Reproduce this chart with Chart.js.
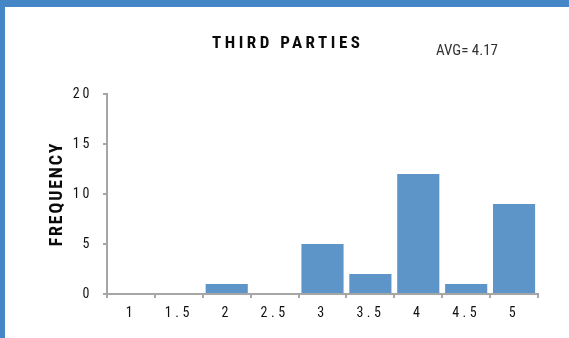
<!DOCTYPE html>
<html>
<head>
<meta charset="utf-8">
<script src="https://cdn.jsdelivr.net/npm/chart.js@4.4.1/dist/chart.umd.min.js"></script>
<style>
  html, body { margin: 0; padding: 0; background: #fff; }
  #wrap { position: relative; width: 569px; height: 338px; }
</style>
</head>
<body>
<div id="wrap"><canvas id="c" width="569" height="338"></canvas></div>
<script>
// Rating buckets and how many responses fell in each
const categories = ['1', '1.5', '2', '2.5', '3', '3.5', '4', '4.5', '5'];
const frequency = [0, 0, 1, 0, 5, 2, 12, 1, 9];
const yMin = 0;
const yMax = 20;
const yStep = 5;
const chartTitle = 'THIRD PARTIES';
const averageLabel = 'AVG= 4.17';
const yTitle = 'FREQUENCY';

const FONT = "'Liberation Sans Narrow', 'Roboto Condensed', 'DejaVu Sans Condensed', 'Liberation Sans', sans-serif";
const AXIS_GREY = '#a6a6a6';
const BAR_BLUE = '#5e95c9';
const FRAME_BLUE = '#4587c6';

// Wrap a draw method so its text is rendered with extra tracking
function tracked(obj, method, spacing) {
  if (!obj || !obj[method] || obj[method]._tracked) return;
  const orig = obj[method];
  const fn = function (...args) {
    const ctx = this.ctx;
    const prev = ctx.letterSpacing;
    ctx.letterSpacing = spacing;
    try { return orig.apply(this, args); }
    finally { ctx.letterSpacing = prev; }
  };
  fn._tracked = true;
  obj[method] = fn;
}

const decorations = {
  id: 'decorations',
  beforeDraw(chart) {
    tracked(chart.titleBlock, 'draw', '3.5px');
    tracked(chart.scales.x, 'drawLabels', '3.5px');
    tracked(chart.scales.y, 'drawLabels', '3px');
    tracked(chart.scales.y, 'drawTitle', '1.8px');
    const ctx = chart.ctx;
    ctx.save();
    ctx.fillStyle = FRAME_BLUE;
    ctx.fillRect(0, 0, chart.width, 7);
    ctx.fillRect(0, 0, 5, chart.height);
    ctx.restore();
  },
  afterDraw(chart) {
    const ctx = chart.ctx;
    ctx.save();
    ctx.letterSpacing = '0px';
    ctx.font = '15px ' + FONT;
    ctx.fillStyle = '#333';
    ctx.textAlign = 'left';
    ctx.textBaseline = 'alphabetic';
    ctx.fillText(averageLabel, 436, 55);
    ctx.restore();
  }
};

new Chart(document.getElementById('c'), {
  type: 'bar',
  data: {
    labels: categories,
    datasets: [{
      data: frequency,
      backgroundColor: BAR_BLUE,
      borderWidth: 0,
      barPercentage: 0.88,
      categoryPercentage: 1.0
    }]
  },
  options: {
    responsive: false,
    animation: false,
    devicePixelRatio: 1,
    layout: { padding: { left: 37.5, right: 31, top: 0, bottom: 0 } },
    plugins: {
      legend: { display: false },
      tooltip: { enabled: false },
      title: {
        display: true,
        text: chartTitle,
        color: '#0a0a0a',
        font: { family: FONT, size: 17, weight: 'bold' },
        padding: { top: 34, bottom: 39.6 }
      }
    },
    scales: {
      x: {
        grid: { drawOnChartArea: false, drawTicks: true, tickLength: 4, color: AXIS_GREY, lineWidth: 2 },
        border: { color: AXIS_GREY, width: 2 },
        ticks: { color: '#111', font: { family: FONT, size: 14 }, padding: 7, maxRotation: 0, autoSkip: false },
        afterFit(scale) { scale.height = 44; }
      },
      y: {
        min: yMin,
        max: yMax,
        grid: { drawOnChartArea: false, drawTicks: true, tickLength: 4, color: AXIS_GREY, lineWidth: 2 },
        border: { color: AXIS_GREY, width: 2 },
        ticks: { stepSize: yStep, color: '#111', font: { family: FONT, size: 14 }, padding: 10.5 },
        title: {
          display: true,
          text: yTitle,
          color: '#0a0a0a',
          font: { family: FONT, size: 18, weight: 'bold' },
          padding: { top: 9, bottom: 0 }
        },
        afterFit(scale) { scale.width = 69.5; }
      }
    }
  },
  plugins: [decorations]
});
</script>
</body>
</html>
